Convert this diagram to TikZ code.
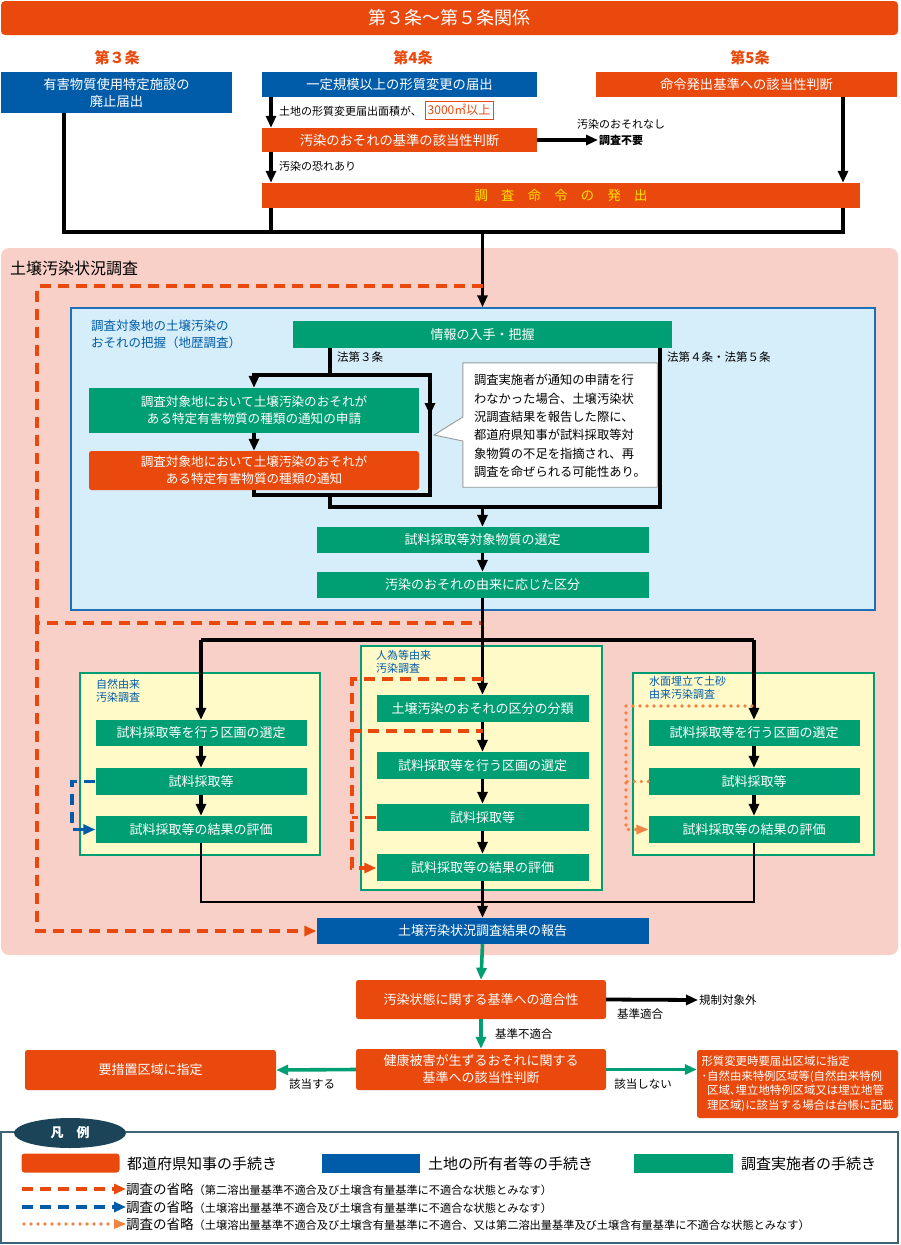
\documentclass[tikz,border=0pt]{standalone}
\usepackage{fontspec}
\setmainfont{Noto Sans CJK JP}
\usetikzlibrary{arrows.meta,calc,shapes.geometric}
\definecolor{OR}{RGB}{233,73,12}
\definecolor{BL}{RGB}{0,92,169}
\definecolor{GR}{RGB}{0,158,115}
\definecolor{PK}{RGB}{248,208,200}
\definecolor{LB}{RGB}{214,237,250}
\definecolor{LBB}{RGB}{30,111,184}
\definecolor{YE}{RGB}{255,250,199}
\definecolor{DO}{RGB}{240,132,66}
\definecolor{DK}{RGB}{27,68,89}
\definecolor{LG}{RGB}{60,100,115}
\definecolor{YT}{RGB}{255,225,0}
\newcommand\myfs[2]{\fontsize{#1}{#2}\selectfont}
\begin{document}
\begin{tikzpicture}[x=1pt,y=-1pt,
 box/.style={inner sep=0pt, align=center, text=white, font=\myfs{13}{17}},
 ob/.style={box, fill=OR, rounded corners=2.5pt},
 bb/.style={box, fill=BL},
 gb/.style={box, fill=GR},
 lbl/.style={inner sep=1pt, font=\myfs{11.5}{14}, text=black},
 ln/.style={line width=3.8pt, draw=black},
 arr/.style={ln, -{Triangle[length=12pt,width=10pt]}},
 thin/.style={line width=1.5pt, draw=black},
 garr/.style={line width=3.6pt, draw=GR, -{Triangle[length=12pt,width=10pt]}},
 odash/.style={line width=3.6pt, draw=OR, dash pattern=on 11pt off 7pt},
 bdash/.style={line width=3.6pt, draw=BL, dash pattern=on 11pt off 7pt},
 dotl/.style={line width=3.6pt, draw=DO, dash pattern=on 0pt off 7pt, line cap=round},
 ytitle/.style={inner sep=0pt, anchor=north west, align=left, text=BL, font=\myfs{11}{13}},
]
\useasboundingbox (0,0) rectangle (900,1245);

% ---------- top ----------
\node[ob, minimum width=897pt, minimum height=34pt, rounded corners=4pt, font=\myfs{18}{20}] (T) at (449.5,18) {第３条〜第５条関係};
\node[inner sep=0pt, text=OR, font=\bfseries\myfs{15}{17}] (H3) at (117,58) {第３条};
\node[inner sep=0pt, text=OR, font=\bfseries\myfs{15}{17}] (H4) at (413,58) {第4条};
\node[inner sep=0pt, text=OR, font=\bfseries\myfs{15}{17}] (H5) at (750,58) {第5条};

\node[bb, minimum width=231pt, minimum height=41pt, font=\myfs{13.3}{17}] (A) at (116.5,92.5) {有害物質使用特定施設の\\廃止届出};
\node[bb, minimum width=275pt, minimum height=25pt, font=\myfs{13.3}{17}] (B) at (399.5,84.5) {一定規模以上の形質変更の届出};
\node[ob, minimum width=301pt, minimum height=25pt, rounded corners=0pt, font=\myfs{13.3}{17}] (C) at (746.5,84.5) {命令発出基準への該当性判断};
\node[ob, minimum width=275pt, minimum height=24pt, rounded corners=0pt, font=\myfs{13.3}{17}] (D) at (399.5,140) {汚染のおそれの基準の該当性判断};
\node[ob, minimum width=598pt, minimum height=25pt, rounded corners=0pt, text=YT, font=\myfs{13.3}{17}] (E) at (561,195.5) {調　査　命　令　の　発　出};

\node[lbl, anchor=west, font=\myfs{11}{13}] (LA) at (278,111) {土地の形質変更届出面積が、};
\node[draw=OR, fill=white, line width=1pt, text=OR, inner sep=0pt, minimum width=68pt, minimum height=18pt, font=\myfs{12}{13}] (LA2) at (459,110) {3000㎡以上};
\node[lbl, anchor=west, font=\myfs{11}{13}] (NS) at (576,124) {汚染のおそれなし};
\node[lbl, anchor=west, font=\bfseries\myfs{11}{13}] (NF) at (598,140) {調査不要};
\node[lbl, anchor=west, font=\myfs{11}{13}] (LB1) at (278,166) {汚染の恐れあり};

\coordinate (xl) at (271,0);
\coordinate (xa) at (64,0);
\coordinate (x5) at (843,0);
\coordinate (jn) at (482.5,232);

\draw[arr] (B.south -| xl) -- (D.north -| xl);
\draw[arr] (D.east) -- (NF.west);
\draw[arr] (D.south -| xl) -- (E.north -| xl);
\draw[arr] (C.south -| x5) -- (E.north -| x5);
\draw[ln] (A.south -| xa) -- (xa |- jn) -- (x5 |- jn) -- (E.south -| x5);
\draw[ln] (E.south -| xl) -- (xl |- jn);

% ---------- pink region ----------
\fill[PK, rounded corners=8pt] (1,248) rectangle (898,955);
\node[inner sep=0pt, anchor=west, font=\myfs{16}{18}] (PT) at (10,268) {土壌汚染状況調査};

% light blue region
\node[draw=LBB, fill=LB, line width=1.5pt, minimum width=804pt, minimum height=302pt, inner sep=0pt] (LBR) at (473,459) {};
\node[inner sep=0pt, anchor=north west, align=left, text=BL, font=\myfs{12.5}{17}] (LBT) at (91,320) {調査対象地の土壌汚染の\\おそれの把握（地歴調査）};

\draw[arr] (jn) -- (LBR.north -| jn);

\node[gb, minimum width=379pt, minimum height=27pt] (I) at (482.5,334.5) {情報の入手・把握};
\node[gb, minimum width=330pt, minimum height=45pt, font=\myfs{12.6}{17}] (G1) at (254,410.5) {調査対象地において土壌汚染のおそれが\\ある特定有害物質の種類の通知の申請};
\node[ob, minimum width=330pt, minimum height=39pt, font=\myfs{12.6}{17}] (O2) at (254,470.5) {調査対象地において土壌汚染のおそれが\\ある特定有害物質の種類の通知};

% callout
\node[inner sep=0pt, minimum width=194pt, minimum height=124pt] (CO) at (560,425) {};
\draw[draw=black!40, fill=white, line width=0.9pt] (CO.north west) -- (CO.north east) -- (CO.south east) -- (CO.south west) -- ($(CO.west)+(0,16)$) -- (434,435) -- ($(CO.west)+(0,-8)$) -- cycle;
\node[inner sep=0pt, align=left, font=\myfs{12.3}{18.3}] (COT) at (560,426) {調査実施者が通知の申請を行\\わなかった場合、土壌汚染状\\況調査結果を報告した際に、\\都道府県知事が試料採取等対\\象物質の不足を指摘され、再\\調査を命ぜられる可能性あり。};

\node[lbl, anchor=west] (L3) at (336,357) {法第３条};
\node[lbl, anchor=west] (L45) at (666,357) {法第４条・法第５条};

\coordinate (x3) at (330,0);
\coordinate (xr) at (430,0);
\coordinate (x45) at (660,0);
\coordinate (y1) at (0,375);
\coordinate (y2) at (0,495);
\coordinate (y3) at (0,507);

\draw[ln] (I.south -| x3) -- (x3 |- y1);
\draw[arr] (x3 |- y1) -- (G1.north |- y1) -- (G1.north);
\draw[arr] (G1.south) -- (O2.north);
\draw[ln] (x3 |- y1) -- (xr |- y1) -- (xr |- y2) -- (O2.south |- y2) -- (O2.south);
\draw[arr] (xr |- y1) -- (430,415);
\draw[ln] (x3 |- y2) -- (x3 |- y3) -- (x45 |- y3) -- (I.south -| x45);

\node[gb, minimum width=332pt, minimum height=26pt] (S1) at (482.5,540) {試料採取等対象物質の選定};
\node[gb, minimum width=332pt, minimum height=26pt] (S2) at (482.5,585) {汚染のおそれの由来に応じた区分};
\draw[arr] (S1.north |- y3) -- (S1.north);
\draw[arr] (S1.south) -- (S2.north);

% yellow boxes
\node[draw=GR, fill=YE, line width=1.3pt, minimum width=240pt, minimum height=182pt, inner sep=0pt] (YL) at (200,764) {};
\node[draw=GR, fill=YE, line width=1.3pt, minimum width=241pt, minimum height=244pt, inner sep=0pt] (YM) at (481.5,768) {};
\node[draw=GR, fill=YE, line width=1.3pt, minimum width=241pt, minimum height=182pt, inner sep=0pt] (YR) at (753.5,764) {};
\node[ytitle] (YLT) at (96,679) {自然由来\\汚染調査};
\node[ytitle] (YMT) at (376,650) {人為等由来\\汚染調査};
\node[ytitle] (YRT) at (649,676) {水面埋立て土砂\\由来汚染調査};

\node[gb, minimum width=211pt, minimum height=26pt] (L1) at (201,733) {試料採取等を行う区画の選定};
\node[gb, minimum width=211pt, minimum height=27pt] (L2) at (201,781.5) {試料採取等};
\node[gb, minimum width=211pt, minimum height=27pt] (L3b) at (201,829.5) {試料採取等の結果の評価};
\node[gb, minimum width=212pt, minimum height=27pt] (M1) at (482.5,708.5) {土壌汚染のおそれの区分の分類};
\node[gb, minimum width=212pt, minimum height=27pt] (M2) at (482.5,765.5) {試料採取等を行う区画の選定};
\node[gb, minimum width=212pt, minimum height=27pt] (M3) at (482.5,817.5) {試料採取等};
\node[gb, minimum width=212pt, minimum height=27pt] (M4) at (482.5,867.5) {試料採取等の結果の評価};
\node[gb, minimum width=211pt, minimum height=26pt] (R1) at (754,733) {試料採取等を行う区画の選定};
\node[gb, minimum width=211pt, minimum height=27pt] (R2) at (754,781.5) {試料採取等};
\node[gb, minimum width=211pt, minimum height=27pt] (R3) at (754,829.5) {試料採取等の結果の評価};

\node[bb, minimum width=332pt, minimum height=26pt] (RP) at (482.5,931) {土壌汚染状況調査結果の報告};

% orange dashed outer
\draw[odash] (482.5,286) -- (37,286) -- (37,623) -- (482.5,623);
\draw[odash, -{Triangle[length=12pt,width=10pt]}] (37,623) -- (37,931) -- (RP.west);

\coordinate (y4) at (0,640);
\draw[arr] (S2.south) -- (M1.north);
\draw[ln] (L1.north |- y4) -- (R1.north |- y4);
\draw[arr] (L1.north |- y4) -- (L1.north);
\draw[arr] (R1.north |- y4) -- (R1.north);

\draw[arr] (L1.south) -- (L2.north);
\draw[arr] (L2.south) -- (L3b.north);
\draw[arr] (M1.south) -- (M2.north);
\draw[arr] (M2.south) -- (M3.north);
\draw[arr] (M3.south) -- (M4.north);
\draw[arr] (R1.south) -- (R2.north);
\draw[arr] (R2.south) -- (R3.north);

% dashed / dotted skips
\coordinate (y6) at (0,868);
\draw[odash] (482.5,679) -- (352,679) -- (352,731) -- (482.5,731);
\draw[odash, -{Triangle[length=12pt,width=10pt]}] (352,731) -- (352,868) -- (M4.west |- y6);
\draw[odash] (M3.west) -- (352,817.5);
\draw[bdash, -{Triangle[length=12pt,width=10pt]}] (L2.west) -- (72,781.5) -- (72,829.5) -- (L3b.west);
\draw[dotl] (752,706) -- (626,706) -- (626,829.5) -- (636,829.5);
\draw[draw=none, fill=DO] (R3.west) -- ++(-12,-5) -- ++(0,10) -- cycle;
\draw[dotl] (R2.west) -- (626,781.5);

% merging lines
\coordinate (y5) at (0,902);
\draw[thin] (L3b.south) -- (L3b.south |- y5) -- (R3.south |- y5) -- (R3.south);
\draw[arr] (M4.south) -- (RP.north);

% ---------- bottom ----------
\node[ob, minimum width=250pt, minimum height=39pt] (SU) at (481,999.5) {汚染状態に関する基準への適合性};
\node[ob, minimum width=250pt, minimum height=41pt] (HE) at (481,1069.5) {健康被害が生ずるおそれに関する\\基準への該当性判断};
\node[ob, minimum width=251pt, minimum height=40pt] (YO) at (150.5,1070) {要措置区域に指定};
\node[ob, minimum width=201pt, minimum height=68pt, align=left, font=\myfs{11.4}{14.5}] (RT) at (797.5,1084) {形質変更時要届出区域に指定\\･自然由来特例区域等(自然由来特例\\\hphantom{･}区域､埋立地特例区域又は埋立地管\\\hphantom{･}理区域)に該当する場合は台帳に記載};

\node[lbl, anchor=west] (KT) at (698,1000) {規制対象外};
\node[lbl] (KG) at (640,1014) {基準適合};
\node[lbl, anchor=west] (KF) at (494,1034) {基準不適合};
\node[lbl] (GA) at (312,1084) {該当する};
\node[lbl] (GN) at (643,1084) {該当しない};

\draw[garr] (RP.south) -- (SU.north);
\draw[arr] (SU.east) -- (KT.west);
\draw[garr] (SU.south) -- (HE.north);
\draw[garr] (HE.west) -- (YO.east);
\draw[garr] (HE.east) -- (HE.east -| RT.west);

% ---------- legend ----------
\draw[draw=LG, line width=1.5pt, fill=white] (1,1132) rectangle (898,1243);
\node[ellipse, fill=DK, minimum width=112pt, minimum height=30pt, inner sep=0pt, text=white, font=\bfseries\myfs{13}{15}] (LGT) at (70,1133) {凡　例};

\node[fill=OR, rounded corners=3pt, minimum width=98pt, minimum height=19pt, inner sep=0pt] (K1) at (70.5,1163) {};
\node[fill=BL, minimum width=98pt, minimum height=19pt, inner sep=0pt] (K2) at (371,1163) {};
\node[fill=GR, minimum width=99pt, minimum height=19pt, inner sep=0pt] (K3) at (683.5,1163) {};
\node[inner sep=0pt, anchor=west, font=\myfs{15}{17}] (K1T) at (127,1164) {都道府県知事の手続き};
\node[inner sep=0pt, anchor=west, font=\myfs{15}{17}] (K2T) at (428,1164) {土地の所有者等の手続き};
\node[inner sep=0pt, anchor=west, font=\myfs{15}{17}] (K3T) at (741,1164) {調査実施者の手続き};

\node[inner sep=0pt, anchor=west, font=\myfs{13.5}{15}] (D1T) at (126,1189) {調査の省略{\myfs{11.2}{12}（第二溶出量基準不適合及び土壌含有量基準に不適合な状態とみなす）}};
\node[inner sep=0pt, anchor=west, font=\myfs{13.5}{15}] (D2T) at (126,1207) {調査の省略{\myfs{11.2}{12}（土壌溶出量基準不適合及び土壌含有量基準に不適合な状態とみなす）}};
\node[inner sep=0pt, anchor=west, font=\myfs{13.5}{15}] (D3T) at (126,1224) {調査の省略{\myfs{11.2}{12}（土壌溶出量基準不適合及び土壌含有量基準に不適合、又は第二溶出量基準及び土壌含有量基準に不適合な状態とみなす）}};
\coordinate (d1s) at (22,1189);
\coordinate (d2s) at (22,1207);
\coordinate (d3s) at (24,1224);
\draw[odash, -{Triangle[length=12pt,width=10pt]}] (d1s) -- (D1T.west);
\draw[bdash, -{Triangle[length=12pt,width=10pt]}] (d2s) -- (D2T.west);
\draw[dotl] (d3s) -- (110,1224);
\draw[draw=none, fill=DO] (D3T.west) -- ++(-12,-5) -- ++(0,10) -- cycle;
\end{tikzpicture}
\end{document}
